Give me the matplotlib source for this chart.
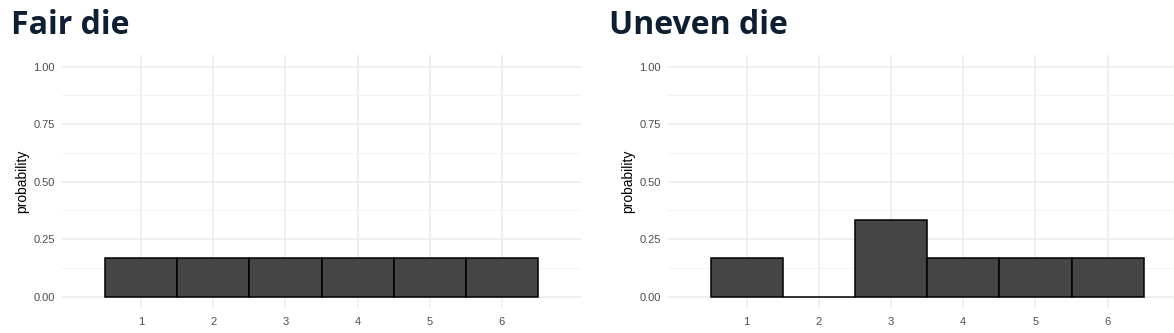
import numpy as np
import matplotlib.pyplot as plt

# サイコロの目と確率
faces = [1, 2, 3, 4, 5, 6]
fair_prob = [1/6, 1/6, 1/6, 1/6, 1/6, 1/6]
uneven_prob = [1/6, 0, 1/3, 1/6, 1/6, 1/6]
y_ticks = [0.0, 0.25, 0.5, 0.75, 1.0]
y_labels = ["0.00", "0.25", "0.50", "0.75", "1.00"]
titles = ["Fair die", "Uneven die"]

plt.rcParams['font.family'] = ['Liberation Sans', 'DejaVu Sans']

W, H = 1174, 333
fig = plt.figure(figsize=(W / 100, H / 100), dpi=100)

bottom = 1 - 308.2 / H
top = 1 - 55.2 / H
ax_l = fig.add_axes([62 / W, bottom, (581 - 62) / W, top - bottom])
ax_r = fig.add_axes([668 / W, bottom, (W - 668) / W, top - bottom])


def draw_panel(ax, probs, xlim):
    ax.bar(faces, probs, width=1.0, color="#454545", edgecolor="black",
           linewidth=1.1, zorder=3)
    ax.set_xlim(*xlim)
    ax.set_ylim(-0.05, 1.05)
    ax.set_xticks(faces)
    ax.set_yticks(y_ticks)
    ax.set_yticklabels(y_labels)
    ax.set_yticks(np.arange(0.125, 1.0, 0.25), minor=True)
    ax.grid(which="major", color="#ebebeb", linewidth=1.1, zorder=0)
    ax.grid(which="minor", axis="y", color="#f3f3f3", linewidth=0.8, zorder=0)
    ax.tick_params(which="both", length=0, colors="#4d4d4d", labelsize=8)
    ax.tick_params(axis="y", pad=5)
    ax.tick_params(axis="x", pad=6)
    for s in ax.spines.values():
        s.set_visible(False)
    ax.set_ylabel("probability", fontsize=10, color="black", labelpad=3)


draw_panel(ax_l, fair_prob, (-0.1, 7.1))
draw_panel(ax_r, uneven_prob, (-0.09, 6.92))

fig.text(11 / W, 1 - 34 / H, titles[0], fontsize=23, fontweight="bold",
         family="Open Sans", color="#0f1f33", ha="left", va="baseline")
fig.text(609 / W, 1 - 34 / H, titles[1], fontsize=23, fontweight="bold",
         family="Open Sans", color="#0f1f33", ha="left", va="baseline")

fig.savefig("out.png", dpi=100)
